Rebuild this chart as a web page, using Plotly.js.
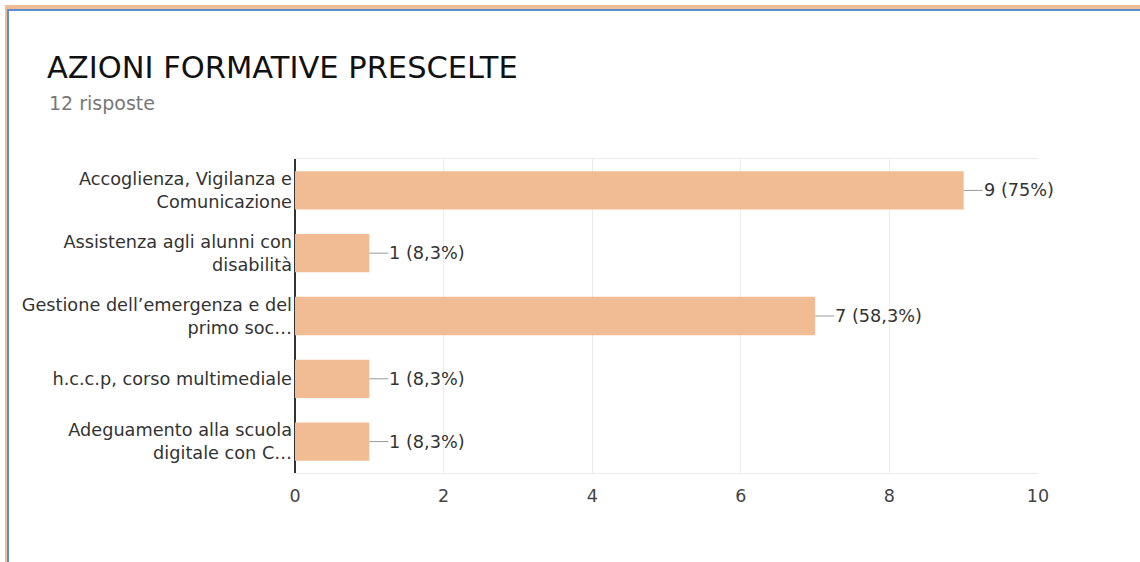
<!DOCTYPE html>
<html>
<head>
<meta charset="utf-8">
<script src="https://cdn.plot.ly/plotly-3.0.1.min.js"></script>
<style>
  html, body { margin:0; padding:0; background:#fff; }
  #wrap { position:relative; width:1140px; height:562px; overflow:hidden; }
  #chart { position:absolute; left:0; top:0; width:1140px; height:562px; }
  .fr { position:absolute; pointer-events:none; }
</style>
</head>
<body>
<div id="wrap">
  <div id="chart"></div>
  <div class="fr" style="left:5px; top:5px; width:1135px; height:4px; background:#f0bc94;"></div>
  <div class="fr" style="left:5px; top:5px; width:2px; height:557px; background:#f0bc94;"></div>
  <div class="fr" style="left:7px; top:9px; width:1133px; height:2px; background:#5b8fd0;"></div>
  <div class="fr" style="left:7px; top:9px; width:2px; height:553px; background:#5b8fd0;"></div>
</div>
<script>
const categories = [
  "Accoglienza, Vigilanza e<br>Comunicazione",
  "Assistenza agli alunni con<br>disabilità",
  "Gestione dell’emergenza e del<br>primo soc…",
  "h.c.c.p, corso multimediale",
  "Adeguamento alla scuola<br>digitale con C…"
];
const counts = [9, 1, 7, 1, 1];
const valueLabels = ["9 (75%)", "1 (8,3%)", "7 (58,3%)", "1 (8,3%)", "1 (8,3%)"];
const xTicks = [0, 2, 4, 6, 8, 10];
const titleText = "AZIONI FORMATIVE PRESCELTE";
const subtitleText = "12 risposte";

const FONT = 'DejaVu Sans, Liberation Sans, Arial, sans-serif';

const trace = {
  type: 'bar',
  orientation: 'h',
  x: counts,
  y: categories,
  marker: { color: '#f1bc94' },
  hoverinfo: 'none'
};

const annotations = counts.map((v, i) => ({
  x: v, y: categories[i], xref: 'x', yref: 'y',
  text: valueLabels[i],
  showarrow: true, arrowhead: 0, arrowwidth: 1, arrowcolor: '#999',
  ax: 19, ay: 0, standoff: 0, startstandoff: 0,
  xanchor: 'left', yanchor: 'middle',
  borderpad: 0,
  font: { family: FONT, size: 17.7, color: '#333' }
}));

annotations.push({
  xref: 'paper', yref: 'paper',
  x: (47 - 295) / 743, y: 1 + (159 - 103) / 314,
  xanchor: 'left', yanchor: 'middle',
  showarrow: false, text: subtitleText,
  font: { family: FONT, size: 19, color: '#777' }
});

const layout = {
  width: 1140, height: 562,
  margin: { l: 295, r: 102, t: 159, b: 89 },
  paper_bgcolor: '#fff', plot_bgcolor: '#fff',
  showlegend: false,
  bargap: 0.39,
  title: {
    text: titleText,
    xref: 'container', yref: 'container',
    x: 47 / 1140, xanchor: 'left',
    y: 1 - 67 / 562, yanchor: 'middle',
    font: { family: FONT, size: 30.5, color: '#111' }
  },
  xaxis: {
    range: [0, 10],
    tickvals: xTicks,
    ticktext: xTicks.map(String),
    showgrid: true, gridcolor: '#ebebeb', gridwidth: 1,
    zeroline: true, zerolinecolor: '#333', zerolinewidth: 1.5,
    showline: true, linecolor: '#ebebeb', linewidth: 1, mirror: true,
    ticks: '', ticklen: 0, ticklabelstandoff: 7,
    tickfont: { family: FONT, size: 17.5, color: '#444' },
    fixedrange: true
  },
  yaxis: {
    autorange: 'reversed',
    showgrid: false, zeroline: false, showline: false,
    ticks: '', ticklabelstandoff: 2,
    tickfont: { family: FONT, size: 17.7, color: '#333' },
    fixedrange: true
  },
  annotations: annotations
};

Plotly.newPlot('chart', [trace], layout, { displayModeBar: false, staticPlot: true });
</script>
</body>
</html>
